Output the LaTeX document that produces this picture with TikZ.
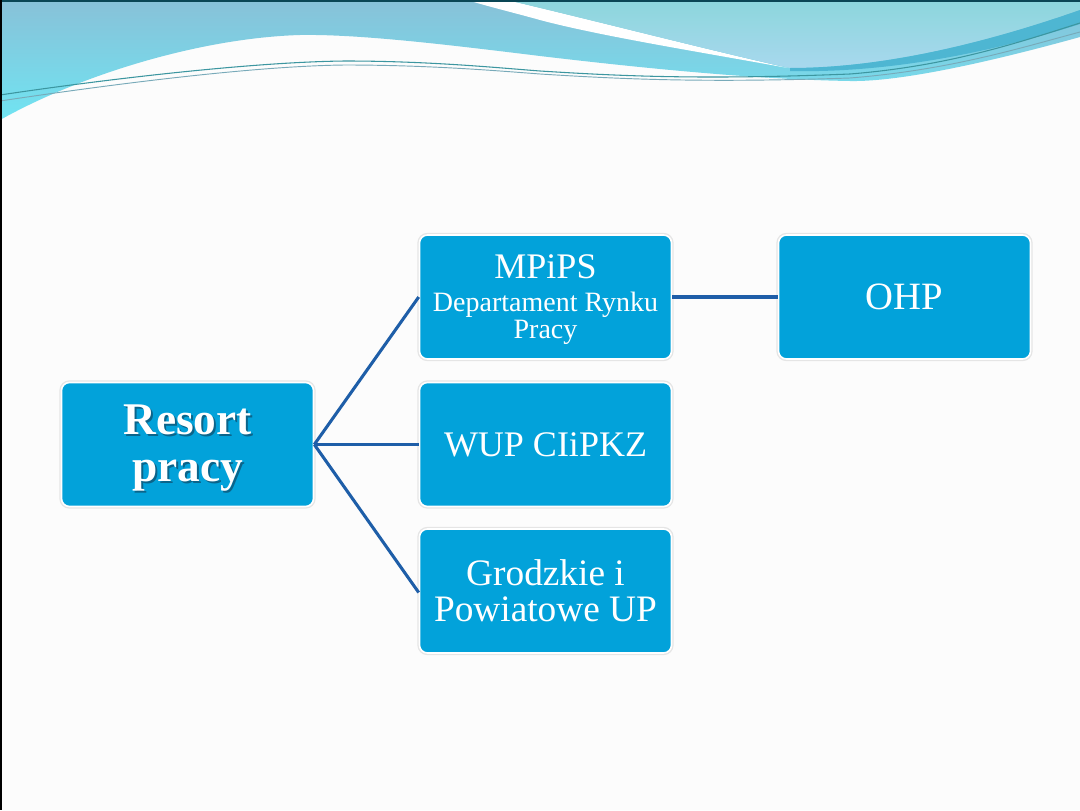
\documentclass[tikz,border=0pt]{standalone}
\usepackage{fontspec}
\setmainfont{Liberation Serif}
\definecolor{bgc}{RGB}{252,252,252}
\definecolor{boxc}{RGB}{2,162,218}
\definecolor{linkc}{RGB}{30,94,168}
\definecolor{waveA}{RGB}{136,193,216}
\definecolor{waveB}{RGB}{112,228,242}
\definecolor{waveC}{RGB}{140,214,220}
\definecolor{waveD}{RGB}{168,216,238}
\definecolor{waveE}{RGB}{78,182,210}
\definecolor{lineA}{RGB}{60,150,160}
\definecolor{lineB}{RGB}{120,170,185}
\definecolor{topedge}{RGB}{10,70,85}
\definecolor{shadowc}{RGB}{20,40,60}
\begin{document}
\begin{tikzpicture}[x=0.75pt,y=-0.75pt,
  orgbox/.style={fill=boxc, rounded corners=6pt, minimum width=189pt, minimum height=93pt,
     draw=white, line width=1.2pt, preaction={draw=black!10, line width=3.2pt},
     text=white, align=center, inner sep=0pt},
  link/.style={draw=linkc, line width=2.3pt},
  txtbig/.style={font=\fontsize{27}{28}\selectfont},
]
% background
\useasboundingbox (0,0) rectangle (1080,810);
\fill[bgc] (0,0) rectangle (1080,810);

% header waves
\shade[top color=waveA, bottom color=waveB]
  (0,0) -- (1080,0) -- (1080,37) .. controls (990,62) and (900,82) .. (850,81)
  .. controls (790,80) and (700,75) .. (540,56) .. controls (450,45) and (360,34) .. (300,35)
  .. controls (200,38) and (80,75) .. (0,120) -- cycle;
\fill[white] (467,0) -- (507,0) .. controls (600,22) and (700,48) .. (788,68)
  .. controls (700,52) and (600,36) .. (540,20) .. controls (515,13) and (490,7) .. (467,0) -- cycle;
\shade[top color=waveC, bottom color=waveD]
  (507,0) -- (1080,0) -- (1080,10) .. controls (980,45) and (880,68) .. (790,68)
  .. controls (700,48) and (600,22) .. (507,0) -- cycle;
\fill[waveE]
  (790,68) .. controls (880,68) and (980,45) .. (1080,10) -- (1080,24)
  .. controls (980,56) and (880,73) .. (790,71) -- cycle;
\draw[lineA, line width=0.8pt]
  (0,95) .. controls (100,80) and (250,62) .. (345,61) .. controls (430,61) and (500,68) .. (540,71)
  .. controls (620,76) and (700,80) .. (850,74) .. controls (950,66) and (1020,42) .. (1080,23);
\draw[lineB, line width=0.7pt]
  (0,101) .. controls (100,86) and (250,66) .. (345,65) .. controls (430,65) and (500,71) .. (540,74)
  .. controls (620,79) and (700,83) .. (850,78) .. controls (950,70) and (1020,48) .. (1080,32);
\draw[topedge, line width=1.5pt] (0,0.5) -- (1080,0.5);
\draw[black, line width=1.5pt] (0.5,0) -- (0.5,810);

% boxes
\node[orgbox] (res) at (187.5,444.5) {};
\node[text=shadowc, opacity=0.5, align=center,
  font=\bfseries\fontsize{34}{35}\selectfont] (resshadow) at (189.5,450) {Resort\\pracy};
\node[text=white, align=center, font=\bfseries\fontsize{34}{35}\selectfont] (restext) at (187.5,448) {Resort\\pracy};

\node[orgbox] (mpips) at (545.5,297) {};
\node[text=white, align=center, inner sep=0pt, font=\fontsize{21}{20.5}\selectfont] (mpipstext) at (545.5,300)
  {{\fontsize{27}{28}\selectfont MPiPS}\\[4pt]Departament Rynku\\Pracy};
\node[orgbox, txtbig] (ohp) at (904.5,297) {\fontsize{29}{30}\selectfont OHP};
\node[orgbox, txtbig] (wup) at (545.5,444.5) {WUP CIiPKZ};
\node[orgbox, font=\fontsize{28}{27}\selectfont] (gpup) at (545.5,591) {Grodzkie i\\Powiatowe UP};

% connectors
\draw[link] (res.east) -- (mpips.west);
\draw[link] (res.east) -- (wup.west);
\draw[link] (res.east) -- (gpup.west |- 0,592.5);
\draw[link] (mpips.east) -- (ohp.west);
\end{tikzpicture}
\end{document}
